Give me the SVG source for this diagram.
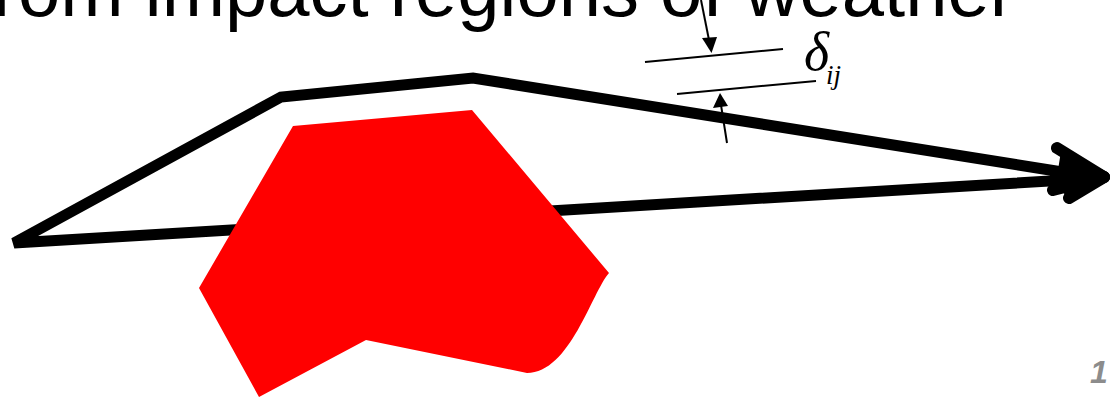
<svg xmlns="http://www.w3.org/2000/svg" width="1110" height="398" viewBox="0 0 1110 398">
<style>
.title{font-family:"Liberation Sans",Arial,sans-serif;font-size:76px;fill:#000}
.thick{fill:none;stroke:#000;stroke-width:11}
.thin{fill:none;stroke:#000;stroke-width:2}
.sym{font-family:"Liberation Serif","Times New Roman",serif;font-style:italic;fill:#000}
.pg{font-family:"Liberation Sans",Arial,sans-serif;font-style:italic;font-weight:bold;font-size:32px;fill:#8c8c8c}
</style>
<rect width="1110" height="398" fill="#fff"/>
<text class="title" x="1015" y="16" text-anchor="end">from impact regions of weather</text>
<g id="connectors">
<path class="thick" d="M1100,178 L473,78 L281,97 L14,243 L1100,178" stroke-linejoin="miter"/>
<g id="arrowhead" stroke="#000" stroke-width="12" stroke-linecap="round" stroke-linejoin="round" fill="#000">
<polyline points="1057,148 1104,177 1053,190" fill="none"/>
<line x1="1104" y1="177" x2="1069" y2="198"/>
<polygon points="1104,177 1066,158 1062,183 1072,193"/>
</g>
</g>
<g id="weather">
<path d="M293,126 L472,110 L609,273 C592,292 570,373 527,373 L366,340 L259,397 L199,288 Z" fill="#f00"/>
</g>
<g id="delta">
<line class="thin" x1="645" y1="62" x2="783" y2="49"/>
<line class="thin" x1="677" y1="94" x2="816" y2="81"/>
<line class="thin" x1="701" y1="0" x2="709" y2="40"/>
<polygon points="711.5,53 702,38 717,37" fill="#000"/>
<line class="thin" x1="727" y1="143" x2="721" y2="105"/>
<polygon points="720,93 713,108 728,106" fill="#000"/>
<text class="sym" x="804" y="70" font-size="54">δ</text>
<text class="sym" x="826" y="84" font-size="27">ij</text>
</g>
<text class="pg" x="1090" y="383">1</text>
</svg>
